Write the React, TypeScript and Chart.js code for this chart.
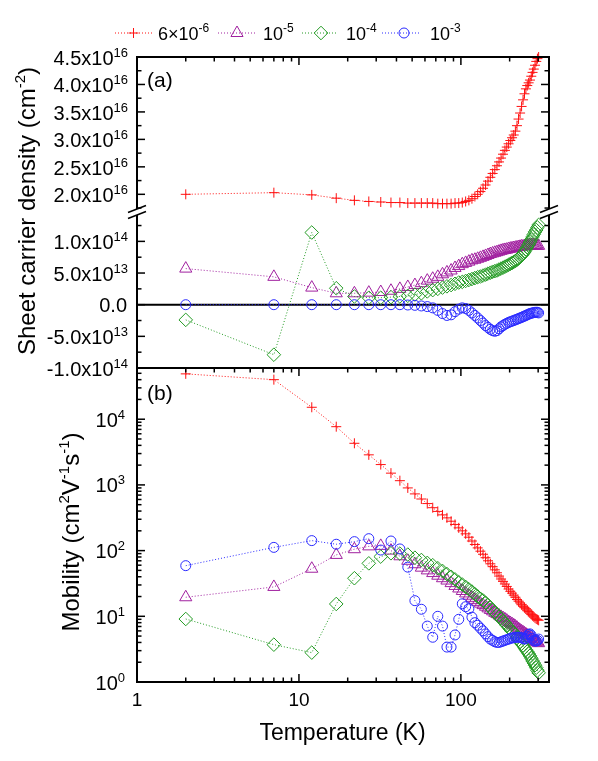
import { useEffect, useRef } from 'react';
import { Chart, registerables } from 'chart.js';

Chart.register(...registerables);

// ---------------- data ----------------
const temperatureK = [
  2, 7, 12, 17, 22, 27, 32, 37, 42, 47,
  52, 57, 62, 67, 72, 77, 82, 87, 92, 97,
  102, 107, 112, 117, 122, 127, 132, 137, 142, 147,
  152, 157, 162, 167, 172, 177, 182, 187, 192, 197,
  202, 207, 212, 217, 222, 227, 232, 237, 242, 247,
  252, 257, 262, 267, 272, 277, 282, 287, 292, 297,
  302,
];

// Sheet carrier density, 6x10^-6 (units of 1e16 cm^-2)
const density6e6 = [
  2.00, 2.03, 1.99, 1.93, 1.89, 1.87, 1.86, 1.85, 1.85, 1.84,
  1.84, 1.84, 1.84, 1.84, 1.83, 1.83, 1.83, 1.83, 1.84, 1.84,
  1.85, 1.87, 1.89, 1.92, 1.96, 2.00, 2.05, 2.11, 2.17, 2.24,
  2.31, 2.38, 2.45, 2.52, 2.59, 2.66, 2.73, 2.80, 2.86, 2.92,
  2.98, 3.03, 3.08, 3.15, 3.25, 3.37, 3.48, 3.60, 3.72, 3.83,
  3.92, 3.98, 4.03, 4.08, 4.15, 4.22, 4.28, 4.35, 4.42, 4.47,
  4.50,
];
// Sheet carrier density, 10^-5 / 10^-4 / 10^-3 (units of 1e13 cm^-2)
const density1e5 = [
  5.7, 4.4, 2.7, 1.8, 1.8, 1.9, 2.0, 2.2, 2.5, 2.8,
  3.1, 3.4, 3.8, 4.1, 4.4, 4.8, 5.1, 5.4, 5.8, 6.1,
  6.4, 6.6, 6.8, 7.0, 7.1, 7.25, 7.4, 7.55, 7.7, 7.85,
  8.0, 8.1, 8.2, 8.3, 8.4, 8.5, 8.6, 8.65, 8.7, 8.8,
  8.85, 8.9, 8.95, 9.0, 9.05, 9.1, 9.15, 9.2, 9.2, 9.25,
  9.3, 9.3, 9.35, 9.4, 9.4, 9.4, 9.4, 9.4, 9.4, 9.3,
  9.3,
];
const density1e4 = [
  -2.4, -7.9, 11.4, 2.6, 1.3, 1.1, 1.1, 1.2, 1.3, 1.4,
  1.6, 1.8, 2.1, 2.3, 2.5, 2.7, 2.9, 3.1, 3.3, 3.5,
  3.6, 3.75, 3.9, 4.05, 4.2, 4.35, 4.45, 4.6, 4.75, 4.9,
  5.05, 5.2, 5.3, 5.4, 5.55, 5.7, 5.85, 6.0, 6.15, 6.3,
  6.45, 6.6, 6.75, 6.9, 7.1, 7.3, 7.55, 7.8, 8.05, 8.35,
  8.7, 9.1, 9.5, 9.9, 10.3, 10.7, 11.1, 11.5, 11.8, 12.2,
  12.6,
];
const density1e3 = [
  0, 0, 0, 0, 0, 0, 0, 0, 0, -0.05,
  -0.1, -0.2, -0.3, -0.5, -0.9, -1.4, -1.7, -1.6, -1.1, -0.7,
  -0.5, -0.6, -0.9, -1.3, -1.7, -2.1, -2.5, -2.9, -3.3, -3.6,
  -3.9, -4.1, -4.2, -4.1, -3.8, -3.5, -3.3, -3.1, -2.95, -2.8,
  -2.7, -2.6, -2.5, -2.4, -2.3, -2.2, -2.1, -2.0, -1.9, -1.8,
  -1.7, -1.6, -1.5, -1.4, -1.35, -1.3, -1.25, -1.2, -1.2, -1.2,
  -1.3,
];

// Mobility (cm^2 V^-1 s^-1)
const mobility6e6 = [
  49000, 40000, 15200, 7700, 4300, 2870, 2040, 1510, 1160, 900,
  730, 610, 520, 450, 395, 350, 315, 280, 250, 222,
  200, 180, 160, 140, 124, 110, 98, 88, 78, 70,
  63, 57, 51, 46, 41, 37, 34, 31, 28.5, 26,
  24, 22.5, 21, 19.5, 18, 17, 16, 15, 14.2, 13.5,
  13, 12.4, 11.8, 11.2, 10.7, 10.2, 9.8, 9.4, 9.1, 8.9,
  8.7,
];
const mobility1e5 = [
  19.5, 28, 53, 86, 105, 116, 118, 100, 82, 70,
  62, 55, 50, 45.5, 41.5, 38, 35, 32, 29, 26.5,
  24.3, 22.3, 20.6, 19.1, 17.8, 16.6, 15.6, 14.8, 14.0, 13.2,
  12.5, 11.9, 11.3, 10.8, 10.3, 9.8, 9.4, 9.0, 8.6, 8.2,
  7.9, 7.6, 7.3, 7.0, 6.7, 6.4, 6.1, 5.9, 5.7, 5.5,
  5.3, 5.1, 4.9, 4.7, 4.6, 4.5, 4.3, 4.2, 4.1, 4.0,
  3.9,
];
const mobility1e4 = [
  9.1, 3.7, 2.8, 15.4, 38, 64, 81, 91, 90, 87,
  78, 72, 65, 60, 54, 49, 44, 40, 36.5, 33,
  30.5, 28, 25.8, 23.8, 21.8, 20, 18.5, 17.5, 16, 14.8,
  13.6, 12.5, 11.5, 10.6, 9.9, 9.2, 8.5, 7.9, 7.3, 6.8,
  6.3, 5.9, 5.6, 5.3, 4.7, 4.4, 4.1, 3.85, 3.6, 3.35,
  3.1, 2.9, 2.7, 2.5, 2.3, 2.1, 1.95, 1.8, 1.65, 1.5,
  1.38,
];
const mobility1e3 = [
  59, 112, 142, 125, 137, 152, 102, 140, 106, 56,
  17.3, 12.8, 7.1, 4.8, 10, 7.1, 3.4, 3.4, 5.2, 9.0,
  15.5, 14, 13, 9.7, 8.0, 7.3, 6.6, 6.0, 5.4, 4.9,
  4.5, 4.3, 4.1, 4.0, 4.0, 4.1, 4.2, 4.3, 4.4, 4.5,
  4.6, 4.7, 4.7, 4.8, 4.8, 4.8, 4.8, 4.7, 4.6, 4.5,
  4.6, 4.9, 5.3, 5.4, 5.1, 4.6, 4.3, 4.2, 4.2, 4.3,
  4.5,
];

// legend texts (base + superscript)
const legendBases = ['6\u00d710', '10', '10', '10'];
const legendExps = ['-6', '-5', '-4', '-3'];

// tick labels
const densityHighTicks = [2.0e16, 2.5e16, 3.0e16, 3.5e16, 4.0e16, 4.5e16];
const densityHighTickLabels = [['2.0x10', '16'], ['2.5x10', '16'], ['3.0x10', '16'], ['3.5x10', '16'], ['4.0x10', '16'], ['4.5x10', '16']];
const densityLowTicks = [-1e14, -5e13, 0, 5e13, 1e14];
const densityLowTickLabels = [['-1.0x10', '14'], ['-5.0x10', '13'], ['0.0', ''], ['5.0x10', '13'], ['1.0x10', '14']];
const mobilityTicks = [1, 10, 100, 1000, 10000];
const mobilityTickLabels = [['10', '0'], ['10', '1'], ['10', '2'], ['10', '3'], ['10', '4']];
const temperatureTicks = [1, 10, 100];
const temperatureTickLabels = ['1', '10', '100'];

// ---------------- styling ----------------
const COLORS = ['#ff1010', '#a0209f', '#229a22', '#2a2aff'];
const STYLES = ['cross', 'triangle', 'rectRot', 'circle'];
const RADII = [5, 7, 6.8, 5];
const FONT_FAMILY = '"Liberation Sans", Arial, Helvetica, sans-serif';
const fnt = (s: number) => `${s}px ${FONT_FAMILY}`;

type Piece = { t: string; sup?: boolean };

function drawRich(ctx: CanvasRenderingContext2D, pieces: Piece[], x: number, y: number, align: string, size: number, supSize: number, rise: number) {
  let w = 0;
  for (const p of pieces) {
    ctx.font = fnt(p.sup ? supSize : size);
    w += ctx.measureText(p.t).width;
  }
  let cx = align === 'left' ? x : align === 'right' ? x - w : x - w / 2;
  ctx.textAlign = 'left';
  ctx.textBaseline = 'alphabetic';
  for (const p of pieces) {
    ctx.font = fnt(p.sup ? supSize : size);
    ctx.fillText(p.t, cx, p.sup ? y - rise : y);
    cx += ctx.measureText(p.t).width;
  }
}

function drawMarker(ctx: CanvasRenderingContext2D, style: string, x: number, y: number, r: number, color: string) {
  ctx.save();
  ctx.strokeStyle = color;
  ctx.lineWidth = 1;
  ctx.setLineDash([]);
  ctx.beginPath();
  if (style === 'cross') {
    ctx.moveTo(x - r, y); ctx.lineTo(x + r, y);
    ctx.moveTo(x, y - r); ctx.lineTo(x, y + r);
  } else if (style === 'triangle') {
    ctx.moveTo(x, y - r);
    ctx.lineTo(x + 0.866 * r, y + 0.5 * r);
    ctx.lineTo(x - 0.866 * r, y + 0.5 * r);
    ctx.closePath();
  } else if (style === 'rectRot') {
    ctx.moveTo(x - r, y); ctx.lineTo(x, y - r); ctx.lineTo(x + r, y); ctx.lineTo(x, y + r);
    ctx.closePath();
  } else {
    ctx.arc(x, y, r, 0, Math.PI * 2);
  }
  ctx.stroke();
  ctx.restore();
}

function line(ctx: CanvasRenderingContext2D, x1: number, y1: number, x2: number, y2: number) {
  ctx.beginPath();
  ctx.moveTo(x1, y1);
  ctx.lineTo(x2, y2);
  ctx.stroke();
}

const decorPlugin = {
  id: 'decor',
  beforeDatasetsDraw(chart: any) {
    const { ctx, chartArea: ca, scales } = chart;
    const y0 = scales.yMid.getPixelForValue(0);
    ctx.save();
    ctx.strokeStyle = '#000';
    ctx.lineWidth = 2;
    line(ctx, ca.left, y0, ca.right, y0);
    ctx.restore();
  },
  afterDraw(chart: any) {
    const { ctx, chartArea: ca, scales } = chart;
    const sx = scales.x, sT = scales.yTop, sM = scales.yMid, sB = scales.yBot;
    ctx.save();
    ctx.strokeStyle = '#000';
    ctx.fillStyle = '#000';
    ctx.setLineDash([]);

    // frame + panel separator
    ctx.lineWidth = 2;
    ctx.strokeRect(ca.left, ca.top, ca.right - ca.left, ca.bottom - ca.top);
    line(ctx, ca.left, sB.top, ca.right, sB.top);

    const MAJ = 8, MIN = 4.5;
    ctx.lineWidth = 1.5;
    const hTick = (py: number, len: number) => {
      line(ctx, ca.left, py, ca.left + len, py);
      line(ctx, ca.right, py, ca.right - len, py);
    };
    // x ticks
    const xmax = sx.max;
    for (let d = 1; d <= 100; d *= 10) {
      for (let k = 1; k <= 9; k++) {
        const v = k * d;
        if (v > xmax) continue;
        const len = k === 1 ? MAJ : MIN;
        const px = sx.getPixelForValue(v);
        line(ctx, px, ca.bottom, px, ca.bottom - len);
        line(ctx, px, ca.top, px, ca.top + len);
        line(ctx, px, sB.top, px, sB.top + len);
      }
    }
    // y ticks top segment
    for (let k = 7; k <= 18; k++) {
      hTick(sT.getPixelForValue(k * 0.25e16), k % 2 === 0 ? MAJ : MIN);
    }
    // y ticks lower segment
    for (let k = -4; k <= 5; k++) {
      hTick(sM.getPixelForValue(k * 2.5e13), k % 2 === 0 ? MAJ : MIN);
    }
    // log y ticks
    for (let d = 1; d <= 10000; d *= 10) {
      for (let k = 1; k <= 9; k++) {
        const v = k * d;
        if (v > sB.max) continue;
        hTick(sB.getPixelForValue(v), k === 1 ? MAJ : MIN);
      }
    }

    // axis break marks
    const yb = sT.bottom;
    for (const x0 of [ca.left, ca.right]) {
      ctx.fillStyle = '#fff';
      ctx.fillRect(x0 - 3, yb - 3, 6, 6);
      ctx.strokeStyle = '#000';
      ctx.lineWidth = 1.5;
      for (const d of [-3, 3]) line(ctx, x0 - 9, yb + d + 3.5, x0 + 9, yb + d - 3.5);
    }
    ctx.fillStyle = '#000';

    // tick labels
    densityHighTicks.forEach((v, i) => {
      const py = sT.getPixelForValue(v);
      const [b, e] = densityHighTickLabels[i];
      drawRich(ctx, [{ t: b }, { t: e, sup: true }], 128, py + 8, 'right', 20, 13, 8);
    });
    densityLowTicks.forEach((v, i) => {
      const py = sM.getPixelForValue(v);
      const [b, e] = densityLowTickLabels[i];
      if (e) drawRich(ctx, [{ t: b }, { t: e, sup: true }], 128, py + 8, 'right', 20, 13, 8);
      else drawRich(ctx, [{ t: b }], 127, py + 7, 'right', 20, 13, 8);
    });
    mobilityTicks.forEach((v, i) => {
      const py = sB.getPixelForValue(v);
      const [b, e] = mobilityTickLabels[i];
      drawRich(ctx, [{ t: b }, { t: e, sup: true }], 125, py + 7.5, 'right', 20, 13, 8);
    });
    temperatureTicks.forEach((v, i) => {
      const px = sx.getPixelForValue(v);
      drawRich(ctx, [{ t: temperatureTickLabels[i] }], px, 706, 'center', 19, 12, 8);
    });

    // axis titles
    drawRich(ctx, [{ t: 'Temperature (K)' }], 342.5, 740, 'center', 23, 14, 9);
    ctx.save();
    ctx.translate(35, 211);
    ctx.rotate(-Math.PI / 2);
    drawRich(ctx, [{ t: 'Sheet carrier density (cm' }, { t: '-2', sup: true }, { t: ')' }], 0, 0, 'center', 24, 15, 10);
    ctx.restore();
    ctx.save();
    ctx.translate(79, 532);
    ctx.rotate(-Math.PI / 2);
    drawRich(ctx, [
      { t: 'Mobility (cm' }, { t: '2', sup: true }, { t: 'V' }, { t: '-1', sup: true },
      { t: 's' }, { t: '-1', sup: true }, { t: ')' },
    ], 0, 0, 'center', 24, 15, 10);
    ctx.restore();

    // panel labels
    drawRich(ctx, [{ t: '(a)' }], 147, 87, 'left', 21, 12, 8);
    drawRich(ctx, [{ t: '(b)' }], 147, 400, 'left', 21, 12, 8);

    // legend
    const legendLayout = [
      [115, 152, 133.5, 158],
      [218, 255, 237, 263],
      [302, 338, 321, 346],
      [382, 421, 404, 430],
    ];
    legendLayout.forEach(([l0, l1, mx, tx], i) => {
      ctx.save();
      ctx.strokeStyle = COLORS[i];
      ctx.lineWidth = 1;
      ctx.setLineDash([1, 2]);
      line(ctx, l0, 33, l1, 33);
      ctx.restore();
      drawMarker(ctx, STYLES[i], mx, 33, RADII[i], COLORS[i]);
      ctx.fillStyle = '#000';
      drawRich(ctx, [{ t: legendBases[i] }, { t: legendExps[i], sup: true }], tx, 40, 'left', 18, 12, 8);
    });

    ctx.restore();
  },
};

function makeDataset(values: number[], scale: number, idx: number, yAxisID: string) {
  return {
    data: temperatureK.map((t, i) => ({ x: t, y: values[i] * scale })),
    yAxisID,
    xAxisID: 'x',
    borderColor: COLORS[idx],
    borderWidth: 1,
    borderDash: [1, 2],
    pointStyle: STYLES[idx],
    pointRadius: RADII[idx],
    pointBorderWidth: 1,
    pointBorderColor: COLORS[idx],
    pointBackgroundColor: 'rgba(0,0,0,0)',
    fill: false,
    tension: 0,
    clip: false,
  };
}

export default function App() {
  const ref = useRef<HTMLCanvasElement | null>(null);
  useEffect(() => {
    if (!ref.current) return;
    const chart = new Chart(ref.current, {
      type: 'line',
      data: {
        datasets: [
          makeDataset(density1e3, 1e13, 3, 'yMid'),
          makeDataset(density1e4, 1e13, 2, 'yMid'),
          makeDataset(density1e5, 1e13, 1, 'yMid'),
          makeDataset(density6e6, 1e16, 0, 'yTop'),
          makeDataset(mobility1e3, 1, 3, 'yBot'),
          makeDataset(mobility1e4, 1, 2, 'yBot'),
          makeDataset(mobility1e5, 1, 1, 'yBot'),
          makeDataset(mobility6e6, 1, 0, 'yBot'),
        ] as any,
      },
      options: {
        responsive: false,
        animation: false,
        events: [],
        layout: { padding: { left: 137, top: 57, right: 49, bottom: 79 } },
        scales: {
          x: { type: 'logarithmic', min: 1, max: 350, display: false },
          yTop: { type: 'linear', position: 'left', stack: 'panels', stackWeight: 155, weight: 3, min: 1.678e16, max: 4.5e16, display: false },
          yMid: { type: 'linear', position: 'left', stack: 'panels', stackWeight: 156, weight: 2, min: -1e14, max: 1.464e14, display: false },
          yBot: { type: 'logarithmic', position: 'left', stack: 'panels', stackWeight: 314, weight: 1, min: 1, max: 60200, display: false },
        } as any,
        plugins: { legend: { display: false }, tooltip: { enabled: false } },
      },
      plugins: [decorPlugin],
    });
    return () => chart.destroy();
  }, []);
  return (
    <div style={{ position: 'absolute', left: 0, top: 0, width: 598, height: 761, background: '#fff' }}>
      <canvas ref={ref} width={598} height={761} />
    </div>
  );
}
